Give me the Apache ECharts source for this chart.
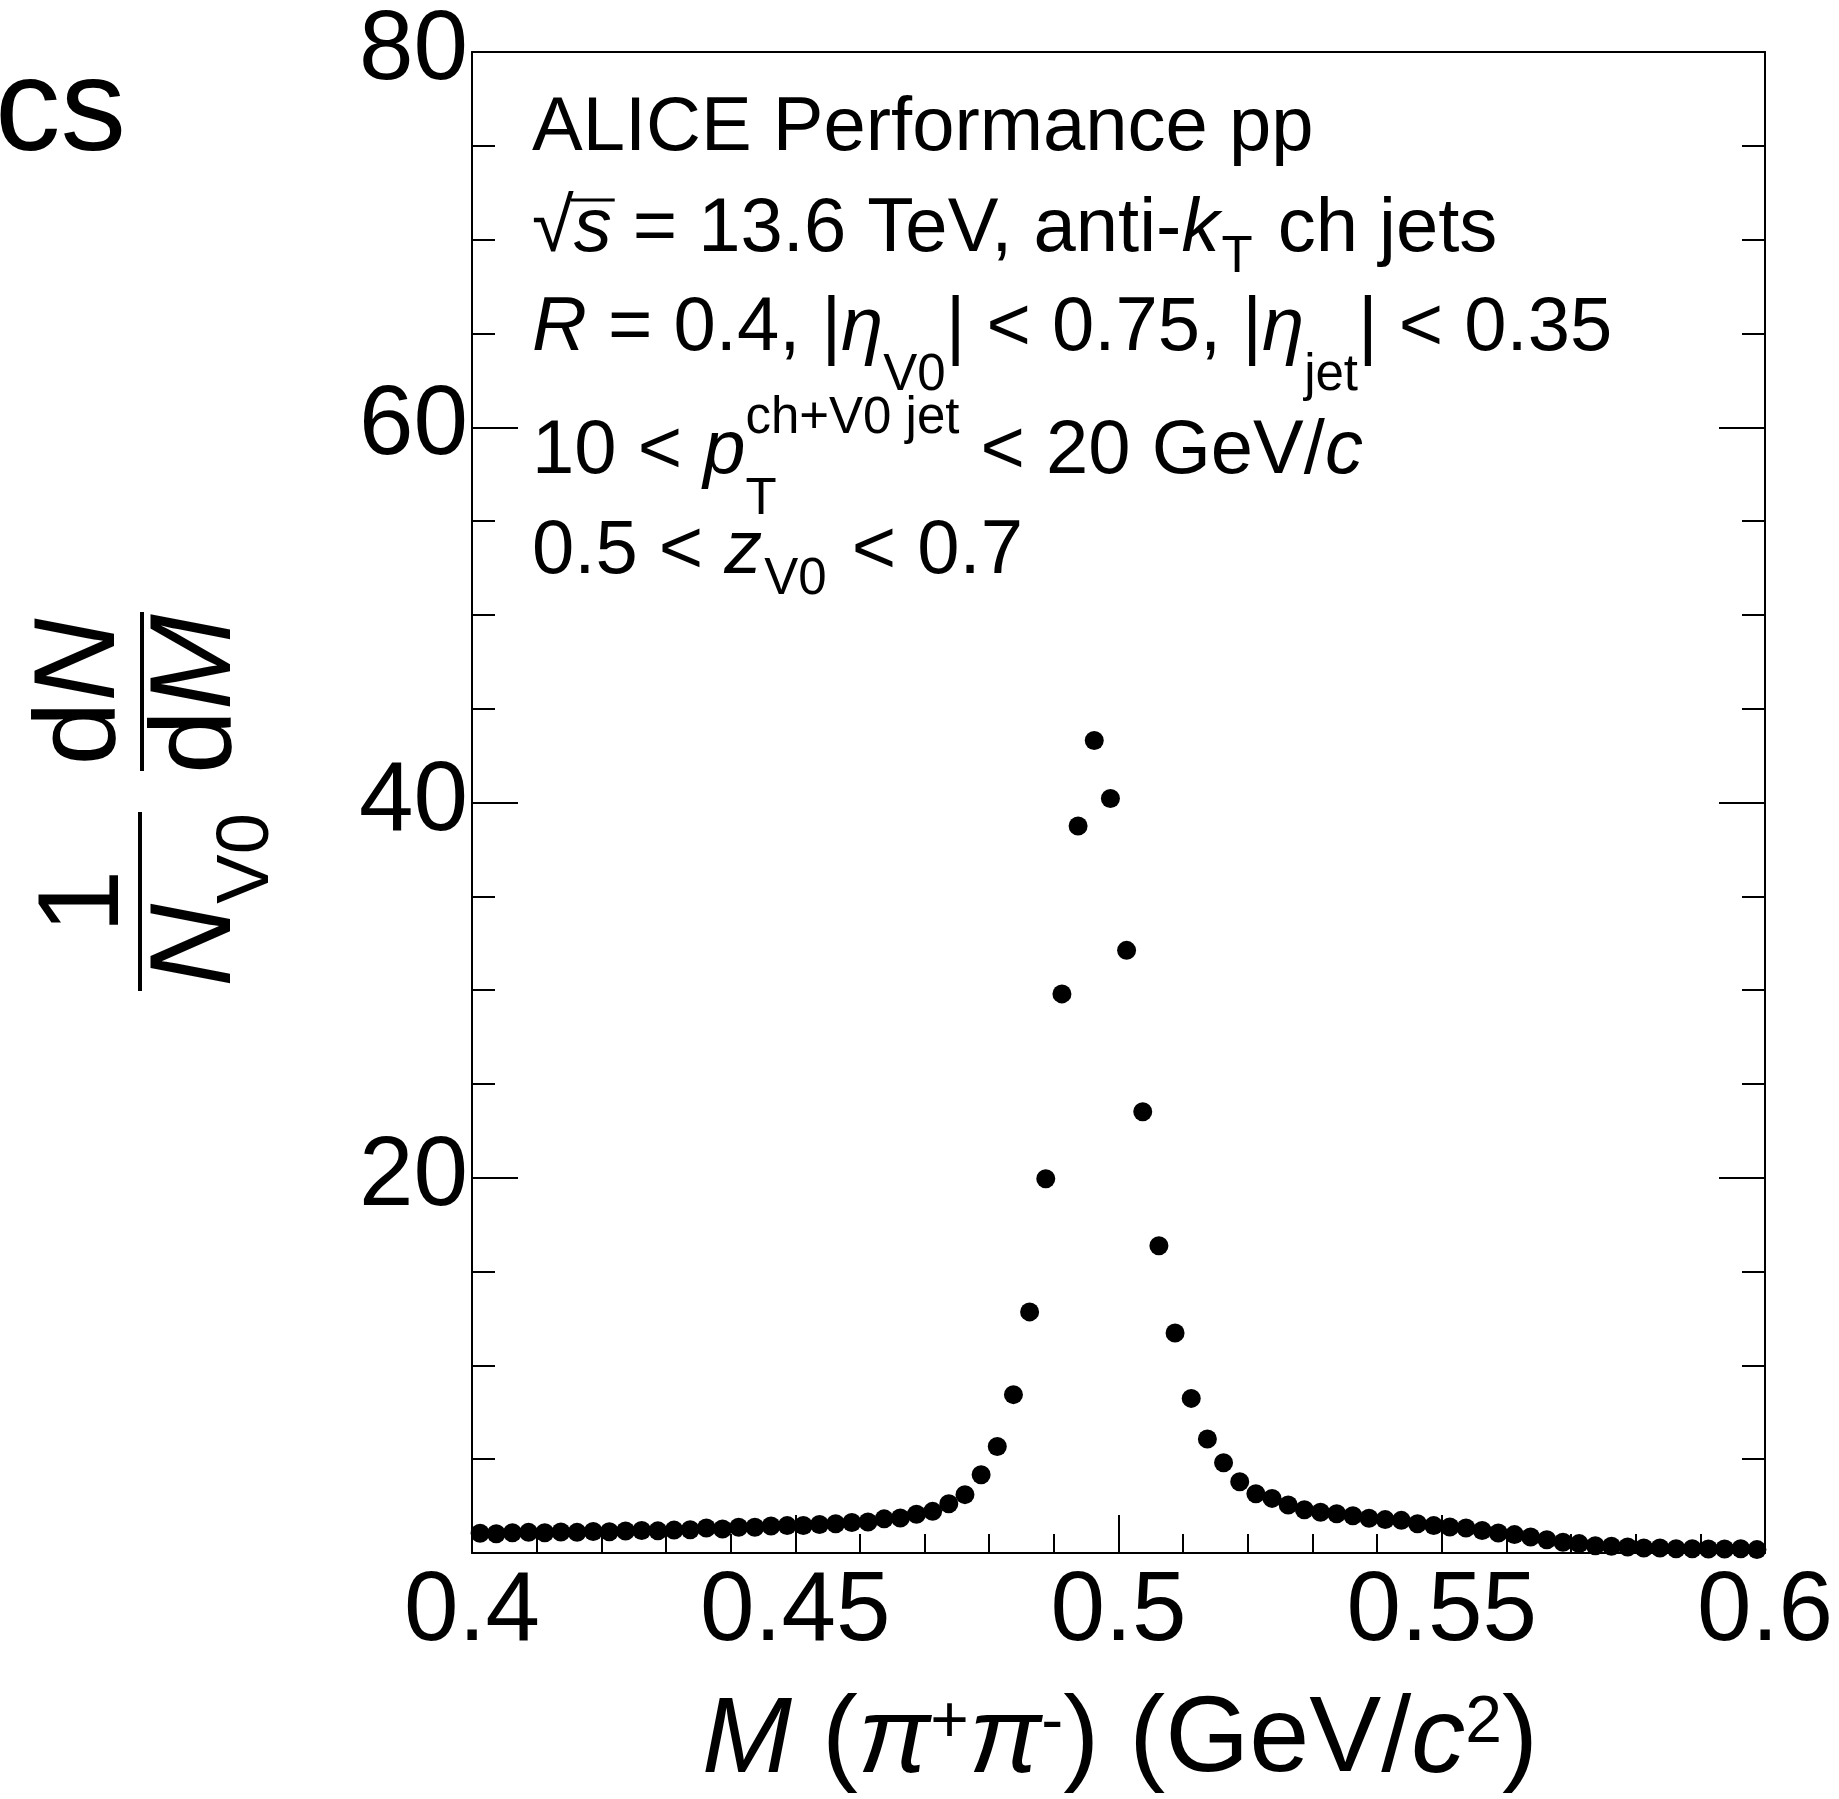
<!DOCTYPE html>
<html>
<head>
<meta charset="utf-8">
<script src="https://cdn.jsdelivr.net/npm/echarts@6/dist/echarts.min.js"></script>
<style>
  html, body { margin: 0; padding: 0; background: #ffffff; }
  #chart { width: 1839px; height: 1799px; }
</style>
</head>
<body>
<div id="chart"></div>
<script>
// Invariant-mass bin centres (GeV/c^2), bin width 0.0025
const massBins = [
  0.40125, 0.40375, 0.40625, 0.40875, 0.41125, 0.41375, 0.41625, 0.41875,
  0.42125, 0.42375, 0.42625, 0.42875, 0.43125, 0.43375, 0.43625, 0.43875,
  0.44125, 0.44375, 0.44625, 0.44875, 0.45125, 0.45375, 0.45625, 0.45875,
  0.46125, 0.46375, 0.46625, 0.46875, 0.47125, 0.47375, 0.47625, 0.47875,
  0.48125, 0.48375, 0.48625, 0.48875, 0.49125, 0.49375, 0.49625, 0.49875,
  0.50125, 0.50375, 0.50625, 0.50875, 0.51125, 0.51375, 0.51625, 0.51875,
  0.52125, 0.52375, 0.52625, 0.52875, 0.53125, 0.53375, 0.53625, 0.53875,
  0.54125, 0.54375, 0.54625, 0.54875, 0.55125, 0.55375, 0.55625, 0.55875,
  0.56125, 0.56375, 0.56625, 0.56875, 0.57125, 0.57375, 0.57625, 0.57875,
  0.58125, 0.58375, 0.58625, 0.58875, 0.59125, 0.59375, 0.59625, 0.59875
];

// Normalised yield 1/N dN/dM per bin
const yieldValues = [
  1.05, 1.03, 1.08, 1.10, 1.08, 1.12, 1.10, 1.15, 1.13, 1.17,
  1.20, 1.18, 1.22, 1.24, 1.33, 1.28, 1.37, 1.37, 1.44, 1.46,
  1.47, 1.52, 1.56, 1.63, 1.65, 1.82, 1.87, 2.07, 2.22, 2.62,
  3.11, 4.17, 5.68, 8.44, 12.85, 19.95, 29.80, 38.75, 43.30, 40.21,
  32.12, 23.52, 16.38, 11.73, 8.24, 6.08, 4.81, 3.80, 3.16, 2.91,
  2.56, 2.31, 2.17, 2.09, 1.99, 1.85, 1.78, 1.74, 1.56, 1.46,
  1.39, 1.33, 1.20, 1.07, 0.98, 0.85, 0.71, 0.57, 0.50, 0.39,
  0.36, 0.32, 0.27, 0.27, 0.23, 0.23, 0.21, 0.21, 0.23, 0.18
];

// Axis ranges and tick steps
const xRange = [0.4, 0.6];
const xStep = 0.05;
const yRange = [0, 80];
const yStep = 20;

// Annotation lines (rich-text markup): sub = deep subscript, subh = shallow subscript
const infoLines = [
  'ALICE Performance pp',
  '\u221A{i|s} = 13.6 TeV, anti-{i|k}{subh|T} ch jets',
  '{i|R} = 0.4, |{i|\u03B7}{sub|V0}| < 0.75, |{i|\u03B7}{sub|jet}| < 0.35',
  '10 < {i|p}{sup|ch+V0 jet} < 20 GeV/{i|c}',
  '0.5 < {i|z}{subh|V0} < 0.7'
];
const xTitle = '{i|M} ({i|\u03C0}{sup|+}{i|\u03C0}{sup|-}) (GeV/{i|c}{sup|2})';

const FONT = '"Liberation Sans", Arial, Helvetica, sans-serif';
const MID = 0.3465; // alphabetic baseline below the 'middle' line, in em

const measureCtx = document.createElement('canvas').getContext('2d');
function textWidth(str, size, style) {
  measureCtx.font = (style || 'normal') + ' normal ' + size + 'px ' + FONT;
  return measureCtx.measureText(str).width;
}

const chart = echarts.init(document.getElementById('chart'), null, { renderer: 'canvas' });

// ---- annotation block ----
const infoX = 532;
const infoBaselines = [155, 256, 355, 478, 578];
const infoSize = 76, infoSmall = 51, infoLH = 146;
const infoRich = {
  i: { fontSize: infoSize, fontStyle: 'italic', fontFamily: FONT, fill: '#000' },
  sub: { fontSize: infoSmall, fontFamily: FONT, verticalAlign: 'bottom', fill: '#000' },
  subh: { fontSize: infoSmall, fontFamily: FONT, verticalAlign: 'bottom', padding: [0, 4, 19, 2], fill: '#000' },
  sup: { fontSize: infoSmall, fontFamily: FONT, verticalAlign: 'top', padding: [15, 0, 0, 0], fill: '#000' }
};
const graphics = [];
infoLines.forEach(function (line, k) {
  graphics.push({
    type: 'text',
    silent: true,
    style: {
      text: line,
      x: infoX,
      y: infoBaselines[k] - (infoLH / 2 + MID * infoSize),
      fontSize: infoSize,
      fontFamily: FONT,
      lineHeight: infoLH,
      fill: '#000',
      align: 'left',
      verticalAlign: 'top',
      rich: infoRich
    }
  });
});
// overbar of the square root
{
  const wRoot = textWidth('\u221A', infoSize);
  const wS = textWidth('s', infoSize, 'italic');
  const yBar = infoBaselines[1] - 56;
  graphics.push({
    type: 'line', silent: true,
    shape: { x1: infoX + wRoot - 3, y1: yBar, x2: infoX + wRoot + wS + 3, y2: yBar },
    style: { stroke: '#000', lineWidth: 3 }
  });
}
// subscript T stacked under the superscript of p
{
  const xT = infoX + textWidth('10 < ', infoSize) + textWidth('p', infoSize, 'italic');
  graphics.push({
    type: 'text', silent: true,
    style: {
      text: 'T', x: xT, y: infoBaselines[3] + 39.7 - MID * infoSmall,
      fontSize: infoSmall, fontFamily: FONT, fill: '#000',
      align: 'left', verticalAlign: 'middle'
    }
  });
}

// ---- x-axis title ----
const xtSize = 108, xtBase = 1779;
graphics.push({
  type: 'text', silent: true,
  style: {
    text: xTitle,
    x: 1120,
    y: xtBase - (xtSize / 2 + MID * xtSize),
    fontSize: xtSize, fontFamily: FONT, lineHeight: xtSize, fill: '#000',
    align: 'center', verticalAlign: 'top',
    rich: {
      i: { fontSize: xtSize, fontStyle: 'italic', fontFamily: FONT, fill: '#000' },
      sup: { fontSize: 66, fontFamily: FONT, verticalAlign: 'top', padding: [3, 0, 0, 0], fill: '#000' }
    }
  }
});

// ---- y-axis title (rotated fractions) ----
const ytSize = 115, ytSub = 74;
graphics.push({
  type: 'group',
  x: 0, y: 1000,
  rotation: Math.PI / 2,
  silent: true,
  children: [
    { type: 'line', shape: { x1: 9, y1: 140, x2: 188, y2: 140 }, style: { stroke: '#000', lineWidth: 4 } },
    { type: 'line', shape: { x1: 229, y1: 142, x2: 388, y2: 142 }, style: { stroke: '#000', lineWidth: 4 } },
    { type: 'text', style: { text: '1', x: 98.5, y: 126 - MID * ytSize, fontSize: ytSize, fontFamily: FONT,
        fill: '#000', align: 'center', verticalAlign: 'middle' } },
    { type: 'text', style: { text: '{i|N}{s|V0}', x: 100, y: 238 - (172 / 2 + MID * ytSize),
        fontSize: ytSize, fontFamily: FONT, lineHeight: 172, fill: '#000', align: 'center', verticalAlign: 'top',
        rich: {
          i: { fontSize: ytSize, fontStyle: 'italic', fontFamily: FONT, fill: '#000' },
          s: { fontSize: ytSub, fontFamily: FONT, verticalAlign: 'bottom', fill: '#000' }
        } } },
    { type: 'text', style: { text: 'd{i|N}', x: 308, y: 122 - MID * ytSize, fontSize: ytSize, fontFamily: FONT,
        fill: '#000', align: 'center', verticalAlign: 'middle',
        rich: { i: { fontSize: ytSize, fontStyle: 'italic', fontFamily: FONT, fill: '#000' } } } },
    { type: 'text', style: { text: 'd{i|M}', x: 306, y: 238 - MID * ytSize, fontSize: ytSize, fontFamily: FONT,
        fill: '#000', align: 'center', verticalAlign: 'middle',
        rich: { i: { fontSize: ytSize, fontStyle: 'italic', fontFamily: FONT, fill: '#000' } } } }
  ]
});

// ---- partial word at the top-left edge ----
graphics.push({
  type: 'text', silent: true,
  style: { text: 'cs', x: 126, y: 159 - MID * 131, fontSize: 131, fontFamily: FONT, fill: '#000',
    align: 'right', verticalAlign: 'middle' }
});

const axisLineStyle = { color: '#000', width: 2 };
const labelStyle = { color: '#000', fontSize: 98, fontFamily: FONT };

const option = {
  backgroundColor: '#ffffff',
  animation: false,
  grid: { left: 472, right: 74, top: 52, bottom: 246, containLabel: false },
  xAxis: [
    {
      type: 'value', min: xRange[0], max: xRange[1], interval: xStep, position: 'bottom',
      axisLine: { show: true, onZero: false, lineStyle: axisLineStyle },
      axisTick: { show: true, inside: true, length: 38, lineStyle: axisLineStyle },
      minorTick: { show: true, splitNumber: 5, length: 19, lineStyle: axisLineStyle },
      axisLabel: Object.assign({ margin: 11 }, labelStyle),
      splitLine: { show: false }, minorSplitLine: { show: false }
    },
    {
      type: 'value', min: xRange[0], max: xRange[1], interval: xStep, position: 'top',
      axisLine: { show: true, onZero: false, lineStyle: axisLineStyle },
      axisTick: { show: false }, minorTick: { show: false }, axisLabel: { show: false },
      splitLine: { show: false }
    }
  ],
  yAxis: [
    {
      type: 'value', min: yRange[0], max: yRange[1], interval: yStep, position: 'left',
      axisLine: { show: true, onZero: false, lineStyle: axisLineStyle },
      axisTick: { show: true, inside: true, length: 46, lineStyle: axisLineStyle },
      minorTick: { show: true, splitNumber: 4, length: 23, lineStyle: axisLineStyle },
      axisLabel: Object.assign({ margin: 4, showMinLabel: false, padding: [6, 0, 0, 0] }, labelStyle),
      splitLine: { show: false }, minorSplitLine: { show: false }
    },
    {
      type: 'value', min: yRange[0], max: yRange[1], interval: yStep, position: 'right',
      axisLine: { show: true, onZero: false, lineStyle: axisLineStyle },
      axisTick: { show: true, inside: true, length: 46, lineStyle: axisLineStyle },
      minorTick: { show: true, splitNumber: 4, length: 23, lineStyle: axisLineStyle },
      axisLabel: { show: false },
      splitLine: { show: false }, minorSplitLine: { show: false }
    }
  ],
  series: [
    {
      type: 'scatter',
      xAxisIndex: 0, yAxisIndex: 0,
      symbol: 'circle',
      symbolSize: 19,
      itemStyle: { color: '#000', opacity: 1 },
      silent: true,
      clip: false,
      data: massBins.map(function (m, i) { return [m, yieldValues[i]]; })
    }
  ],
  graphic: { elements: graphics }
};

chart.setOption(option);
</script>
</body>
</html>
